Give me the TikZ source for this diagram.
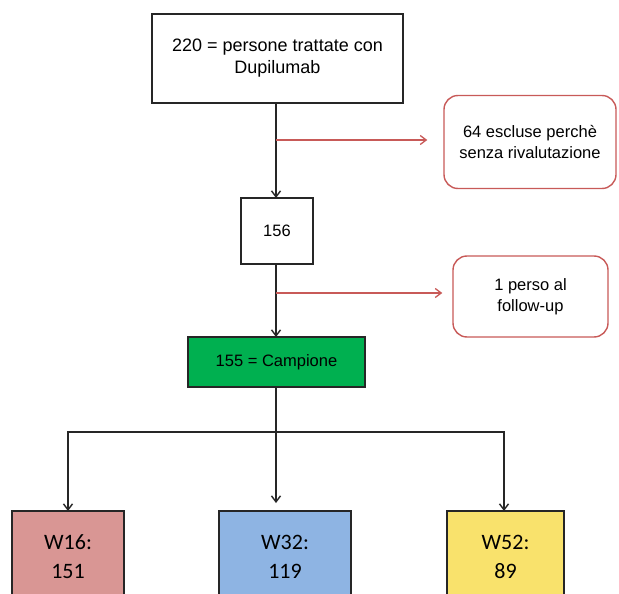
\documentclass[tikz,border=0pt]{standalone}
\usepackage{fontspec}
\setmainfont{Liberation Sans}
\newfontfamily\calib{Carlito}
\usetikzlibrary{arrows.meta,positioning}
\definecolor{redln}{RGB}{200,90,88}
\definecolor{grn}{RGB}{0,176,80}
\definecolor{pinkf}{RGB}{217,150,148}
\definecolor{bluef}{RGB}{142,180,227}
\definecolor{yelf}{RGB}{249,226,108}
\tikzset{
  box/.style={draw=black!85,line width=1.5pt,align=center,inner sep=0pt,font=\fontsize{16.5}{20}\selectfont},
  excl/.style={draw=redln,line width=1.4pt,rounded corners=14pt,align=center,inner sep=0pt,font=\fontsize{16.5}{20.5}\selectfont},
  wbox/.style={draw=black!85,line width=1.5pt,align=center,inner sep=0pt,font=\calib\fontsize{22}{29}\selectfont},
  arr/.style={draw=black!85,line width=1.4pt,-{Straight Barb[length=6pt,width=9pt]}},
  rarr/.style={draw=redln,line width=1.3pt,-{Straight Barb[length=6pt,width=9pt]}},
}
\begin{document}
\begin{tikzpicture}[x=1pt,y=-1pt]
\useasboundingbox[clip] (0,0) rectangle (619,594);
\fill[white] (0,0) rectangle (619,594);
\node[box,font=\fontsize{18}{22}\selectfont,minimum width=251pt,minimum height=89pt] (top) at (277.5,58.5) {220 = persone trattate con\\Dupilumab};
\node[box,minimum width=72pt,minimum height=66pt] (b156) at (277,231) {156};
\node[box,fill=grn,minimum width=177pt,minimum height=50pt] (camp) at (276.5,362) {155 = Campione};
\node[excl,minimum width=172pt,minimum height=93pt] (ex1) at (530,142) {64 escluse perchè\\senza rivalutazione};
\node[excl,minimum width=155pt,minimum height=81pt] (ex2) at (530.5,296.5) {1 perso al\\follow-up};
\node[wbox,fill=pinkf,minimum width=112pt,minimum height=91pt] (w16) at (68,556.5) {W16:\\151};
\node[wbox,fill=bluef,minimum width=132pt,minimum height=91pt] (w32) at (285,556.5) {W32:\\119};
\node[wbox,fill=yelf,minimum width=117pt,minimum height=91pt] (w52) at (505.5,556.5) {W52:\\89};
\coordinate (s1) at (276,140);
\coordinate (s2) at (276,293);
\coordinate (hub) at (276,432);
\coordinate (m32) at (276,503);
\draw[arr] (276,103) -- (276,198);
\draw[arr] (276,264) -- (276,337);
\draw[rarr,shorten >=16pt] (s1) -- (s1 -| ex1.west);
\draw[rarr,shorten >=10pt] (s2) -- (s2 -| ex2.west);
\draw[draw=black!85,line width=1.4pt] (camp.south -| hub) -- (hub);
\draw[arr] (hub) -- (m32);
\draw[arr] (hub) -- (68,432) -- (68,511);
\draw[arr] (hub) -- (504,432) -- (504,511);
\end{tikzpicture}
\end{document}
